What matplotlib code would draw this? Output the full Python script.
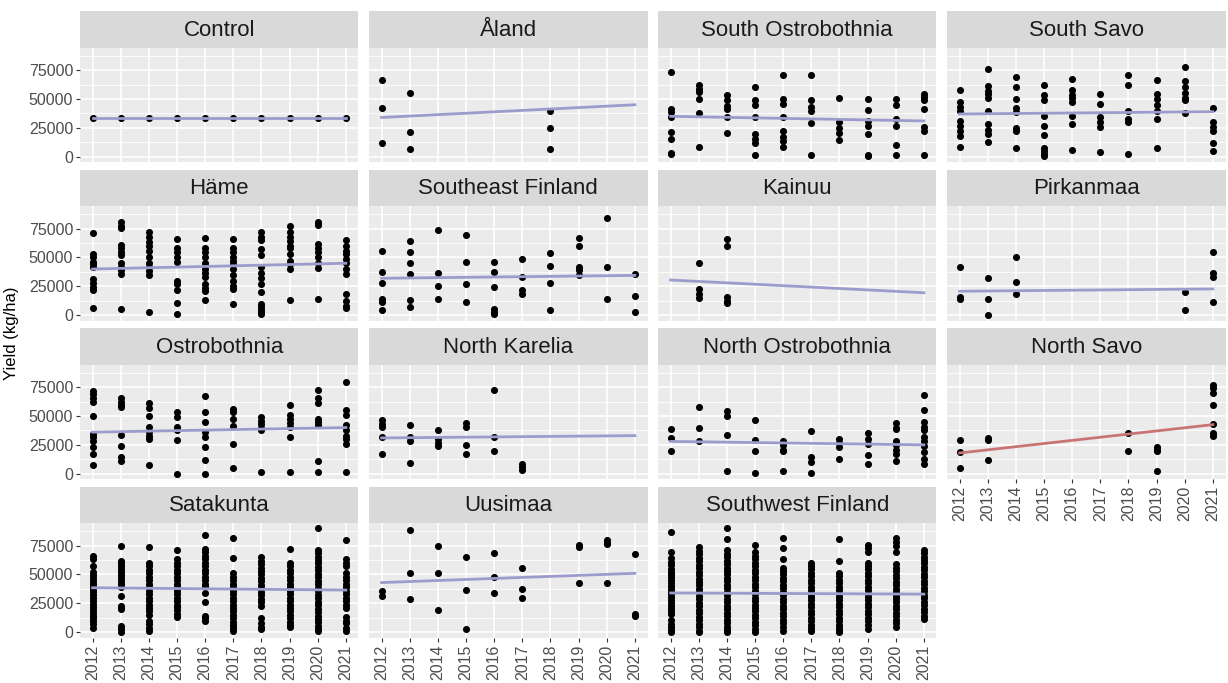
import matplotlib
matplotlib.use("Agg")
import matplotlib.pyplot as plt

plt.rcParams['font.family'] = ['Liberation Sans', 'DejaVu Sans']

years = [2012, 2013, 2014, 2015, 2016, 2017, 2018, 2019, 2020, 2021]

control = {y: [33600] for y in years}
aland = {2012: [66200, 42300, 12000], 2013: [55200, 21600, 6700], 2018: [40000, 24800, 6700]}
south_ostro = {
    2012: [73500, 41400, 38500, 34100, 21600, 15200, 3500, 2000],
    2013: [61900, 59000, 56000, 50200, 37900, 8800],
    2014: [53100, 48700, 44000, 41400, 34700, 20400],
    2015: [60400, 48700, 45000, 34700, 19600, 15000, 12000, 1200],
    2016: [70300, 50200, 45800, 34700, 22500, 17000, 14000, 8800],
    2017: [70300, 48700, 43000, 40000, 29200, 1200],
    2018: [50800, 29800, 25000, 21000, 14300],
    2019: [49600, 40600, 31200, 27000, 19600, 1500, 500],
    2020: [50200, 45000, 32700, 27000, 9900, 1200],
    2021: [54000, 51500, 49300, 41400, 25400, 22000, 1200],
}
south_savo = {
    2012: [57500, 47300, 43000, 40000, 31200, 27000, 22000, 18000, 8800],
    2013: [75600, 61000, 57000, 54000, 51000, 39400, 28300, 23000, 20000, 12800],
    2014: [68600, 60400, 50200, 42300, 38500, 24500, 22500, 7900],
    2015: [61900, 53100, 49300, 35600, 26800, 18700, 7900, 5000, 2000, 500],
    2016: [67100, 57500, 53000, 50500, 47000, 35600, 28300, 5500],
    2017: [54000, 45800, 34100, 30000, 25400, 4400],
    2018: [70300, 61900, 40000, 32700, 29800, 2000],
    2019: [66200, 54600, 50000, 45000, 40000, 32700, 7900],
    2020: [78000, 65400, 60000, 55000, 51000, 49300, 37600],
    2021: [42000, 29800, 26000, 22500, 12300, 5000],
}
hame = {
    2012: [71000, 53000, 50000, 46000, 44000, 42000, 31000, 28000, 24500, 22000, 6500],
    2013: [80500, 77000, 75600, 61000, 58000, 55000, 52000, 45000, 42000, 39000, 36000, 5500],
    2014: [72000, 68000, 63000, 60000, 56000, 50000, 45000, 42000, 38000, 35000, 2600],
    2015: [66000, 58000, 55000, 50000, 46000, 30000, 27000, 22000, 10500, 1200],
    2016: [67000, 58000, 55000, 50000, 45000, 40000, 37000, 33000, 27000, 24000, 21000, 13000],
    2017: [66000, 58000, 55000, 50000, 47000, 44000, 40000, 35000, 30000, 25000, 23000, 10000],
    2018: [72000, 68000, 65000, 57000, 52000, 42000, 37000, 32000, 27000, 20000, 10000, 7000, 5000, 3000, 1500],
    2019: [77000, 72000, 68000, 64000, 60000, 58000, 53000, 47000, 44000, 40000, 13000],
    2020: [80500, 78000, 62000, 58000, 55000, 50000, 45000, 41000, 14000],
    2021: [65000, 60000, 56000, 53000, 49000, 45000, 40000, 36000, 18000, 12000, 8000, 6000],
}
southeast = {
    2012: [56000, 37600, 28000, 14300, 11400, 5000],
    2013: [64000, 55000, 45000, 35600, 12800, 7600],
    2014: [73500, 36800, 25700, 14300],
    2015: [69500, 46400, 26800, 11700],
    2016: [46400, 37600, 24500, 5500, 3000, 1500],
    2017: [48400, 33300, 21600, 18700],
    2018: [53700, 43000, 28000, 5000],
    2019: [67000, 59500, 42000, 39000, 34700],
    2020: [84300, 42000, 13700],
    2021: [35600, 16300, 3200],
}
kainuu = {2013: [45000, 23000, 18000, 15000], 2014: [66000, 60000, 15800, 12000, 10500]}
pirkanmaa = {
    2012: [42000, 15800, 14300],
    2013: [32400, 13700, 300],
    2014: [50500, 28600, 18700],
    2020: [20100, 4700],
    2021: [54600, 36200, 33300, 11700],
}
ostro = {
    2012: [71800, 69000, 65500, 62500, 49800, 34600, 31500, 28700, 22800, 17000, 7300],
    2013: [65300, 62000, 59500, 57500, 33700, 24300, 14600, 11100],
    2014: [61000, 56500, 49800, 40400, 36000, 33000, 30200, 7300],
    2015: [53600, 49200, 40400, 37500, 29300, 0],
    2016: [67400, 53600, 44800, 36000, 31600, 23400, 11700, 0],
    2017: [55700, 53600, 47700, 41000, 25800, 5300],
    2018: [49200, 46000, 43000, 40000, 37500, 1200],
    2019: [59500, 50700, 47500, 44000, 40400, 31600, 1200],
    2020: [72700, 65300, 61000, 47700, 45000, 42000, 11100, 1200],
    2021: [79100, 55000, 50700, 42500, 37500, 33000, 30000, 25800, 1200],
}
north_karelia = {
    2012: [46900, 43000, 40400, 31600, 16900],
    2013: [41900, 31600, 28700, 9700],
    2014: [38100, 30200, 27000, 24300],
    2015: [44000, 40400, 24900, 16900],
    2016: [72700, 31600, 19300],
    2017: [8200, 5500, 3500],
}
north_ostro = {
    2012: [38400, 30800, 19300],
    2013: [57400, 39800, 28700],
    2014: [54200, 50000, 33700, 2300],
    2015: [46900, 29300, 19300, 900],
    2016: [28700, 25000, 21000, 19300, 2300],
    2017: [36900, 14100, 10000, 900],
    2018: [30200, 27000, 23000, 12900],
    2019: [35100, 30200, 25800, 16400, 8800],
    2020: [43500, 40000, 38800, 28700, 25000, 21000, 17000, 11100],
    2021: [68000, 55000, 44800, 40400, 37500, 32200, 28000, 24000, 18500, 13000, 8200],
}
north_savo = {
    2012: [29300, 18500, 5300],
    2013: [31000, 29300, 12000],
    2018: [35700, 19300],
    2019: [23400, 21000, 19900, 2300],
    2021: [77000, 74500, 70000, 59500, 43300, 35700, 33000],
}
satakunta = {
    2012: [66000, 63000, 57000, 52000, 49500, 47000, 44500, 42000, 39500, 37000, 34500, 32000,
           29500, 27000, 24500, 22000, 19500, 17000, 14500, 12000, 9500, 7000, 4000],
    2013: [75000, 62000, 59500, 57000, 54500, 52000, 49500, 47000, 44500, 42000, 39500, 31000,
           22500, 20000, 5800, 3000, 600],
    2014: [73500, 60000, 57000, 54000, 51000, 48000, 45000, 42000, 39000, 36000, 33000, 30000,
           27000, 24000, 21000, 18000, 15000, 10000, 7300, 4000, 1500],
    2015: [71500, 63000, 60000, 57000, 54000, 51000, 48000, 45000, 42000, 39000, 36000, 33000,
           30000, 27000, 24000, 22000, 19000, 16000, 13000],
    2016: [84000, 72000, 69000, 66000, 63000, 60000, 57000, 54000, 51000, 48000, 45000, 42000,
           40000, 34000, 26000, 14500, 12000, 10000],
    2017: [81500, 64000, 51000, 48000, 45000, 42000, 39000, 36000, 33000, 30000, 27000, 24000,
           21000, 18000, 15000, 12000, 9000, 6000, 3500, 1500],
    2018: [65000, 62000, 59000, 56000, 53000, 50000, 47000, 44000, 41000, 38000, 35000, 32000,
           29000, 26000, 23000, 12000, 8000, 5000, 3000],
    2019: [72000, 60000, 57000, 54000, 51000, 48000, 45000, 42000, 39000, 36000, 33000, 30000,
           27000, 24000, 21000, 18000, 15000, 12000, 9000, 6500, 4500],
    2020: [90000, 71500, 68500, 65500, 62500, 59500, 56500, 53500, 50500, 47500, 44500, 41500,
           38500, 35500, 32500, 29500, 26500, 23500, 20500, 17500, 14500, 11500, 8500, 5500, 2500, 1000],
    2021: [80000, 63000, 60000, 57000, 51000, 48000, 45000, 42000, 39000, 36000, 33000, 30000,
           27000, 24000, 20600, 13000, 10000, 8000, 4000, 1500],
}
uusimaa = {
    2012: [35700, 31000],
    2013: [88200, 51000, 28900],
    2014: [75000, 51000, 19000],
    2015: [65300, 36200, 2900],
    2016: [68600, 48000, 34200],
    2017: [55400, 37100, 29800],
    2019: [75600, 73600, 43000],
    2020: [80000, 77000, 76000, 43000],
    2021: [67700, 15800, 13700],
}
southwest = {
    2012: [86800, 69700, 64000, 61000, 58000, 55000, 52500, 50000, 47500, 45000, 42500, 40000,
           37500, 35000, 33000, 30500, 28000, 25500, 23000, 20500, 18000, 15500, 10300, 7500, 4500, 2000, 300],
    2013: [73500, 70500, 67500, 64500, 61500, 58500, 55500, 52500, 49500, 46500, 43500, 40500,
           37500, 34500, 31500, 28500, 25500, 22500, 19500, 16500, 13500, 10500, 7500, 4500, 1500, 0],
    2014: [90000, 81000, 71000, 68000, 65000, 62000, 59000, 56000, 53000, 50000, 47000, 44000,
           41000, 38000, 35000, 32000, 29000, 26000, 23000, 20000, 17000, 14000, 11000, 8000, 5000, 2000, 0],
    2015: [75600, 69000, 66000, 63000, 60000, 57000, 54000, 51000, 48000, 45000, 42000, 39000,
           36000, 33000, 30000, 27000, 24000, 21000, 18000, 15000, 12000, 9000, 6000, 3000, 500],
    2016: [81500, 72600, 63800, 55900, 53000, 50000, 47000, 44000, 41000, 38000, 35000, 32000,
           29000, 26000, 23000, 20000, 17000, 14000, 11000, 8000, 5000, 1500],
    2017: [60300, 57500, 54500, 51500, 48500, 45500, 42500, 39500, 36500, 33500, 30500, 27500,
           24500, 21500, 18500, 15500, 12500, 9500, 6500, 3500, 1500],
    2018: [80300, 61800, 51500, 48500, 45500, 42500, 39500, 36500, 33500, 30500, 27500, 24500,
           21500, 18500, 15500, 12500, 9500, 6500, 3500, 1000, 0],
    2019: [75600, 72500, 69700, 60300, 57500, 54500, 51500, 48500, 45500, 42500, 39500, 36500,
           33500, 30500, 27500, 24500, 21500, 18500, 15500, 12500, 9500, 6500, 3000],
    2020: [81500, 78000, 75000, 69000, 58800, 55800, 52800, 49800, 46800, 43800, 40800, 37800,
           34800, 31800, 28800, 25800, 22800, 19800, 16800, 13800, 10800, 7800, 4500],
    2021: [71500, 68500, 65500, 62500, 59500, 56500, 53500, 50500, 47500, 44500, 41500, 38500,
           35500, 32500, 29500, 26500, 23500, 20500, 17500, 14500, 11800],
}

panel_names = ["Control", "Åland", "South Ostrobothnia", "South Savo",
               "Häme", "Southeast Finland", "Kainuu", "Pirkanmaa",
               "Ostrobothnia", "North Karelia", "North Ostrobothnia", "North Savo",
               "Satakunta", "Uusimaa", "Southwest Finland"]
panel_data = [control, aland, south_ostro, south_savo,
              hame, southeast, kainuu, pirkanmaa,
              ostro, north_karelia, north_ostro, north_savo,
              satakunta, uusimaa, southwest]
# fitted trend at 2012 and 2021
trend_2012 = [33800, 34000, 35000, 37000, 40000, 32000, 30500, 20800, 36000, 31000, 28000, 18000, 38500, 43000, 34000]
trend_2021 = [33800, 45000, 31000, 39000, 45000, 34500, 19500, 22800, 40000, 33000, 25000, 42500, 36500, 51000, 33000]
trend_sig = [False] * 11 + [True] + [False] * 3

W, H = 1228, 683
fig = plt.figure(figsize=(W / 100, H / 100), dpi=100)

col_left0, col_pitch, panel_w = 80, 289, 278.5
row_top0, row_pitch, strip_h, panel_h = 11, 158.5, 36.5, 114.5

all_vals = [v for d in panel_data for vs in d.values() for v in vs]
ymin, ymax = min(all_vals), max(all_vals)
pad = (ymax - ymin) * 0.05

for i, (name, data) in enumerate(zip(panel_names, panel_data)):
    r, c = divmod(i, 4)
    left = col_left0 + c * col_pitch
    top = row_top0 + r * row_pitch
    # strip
    sax = fig.add_axes([left / W, 1 - (top + strip_h) / H, panel_w / W, strip_h / H])
    sax.set_facecolor('#D9D9D9')
    sax.set_xticks([])
    sax.set_yticks([])
    for s in sax.spines.values():
        s.set_visible(False)
    sax.text(0.5, 0.47, name, ha='center', va='center', fontsize=16, color='#1A1A1A',
             transform=sax.transAxes)
    # panel
    ax = fig.add_axes([left / W, 1 - (top + strip_h + panel_h) / H, panel_w / W, panel_h / H])
    ax.set_facecolor('#EBEBEB')
    for s in ax.spines.values():
        s.set_visible(False)
    ax.set_xlim(2011.55, 2021.45)
    ax.set_ylim(ymin - pad, ymax + pad)
    ax.set_xticks(years)
    ax.set_yticks([0, 25000, 50000, 75000])
    ax.set_yticks([12500, 37500, 62500, 87500], minor=True)
    ax.grid(True, which='major', color='white', lw=1.2)
    ax.grid(True, which='minor', axis='y', color='white', lw=0.6)
    ax.set_axisbelow(True)

    xs, ys = [], []
    for yr, vals in data.items():
        xs += [yr] * len(vals)
        ys += vals
    ax.scatter(xs, ys, s=26, color='black', linewidths=0, zorder=3)
    lc = '#C97474' if trend_sig[i] else '#9C9CCC'
    ax.plot([2012, 2021], [trend_2012[i], trend_2021[i]], color=lc, lw=2, zorder=4)

    ax.tick_params(which='minor', length=0)
    ax.tick_params(which='major', color='#333333', length=3, width=0.8,
                   labelcolor='#4D4D4D', labelsize=11.5, pad=2)
    if c != 0:
        ax.tick_params(axis='y', length=0, labelleft=False)
    bottom_row = (r == 3) or (r == 2 and c == 3)
    if bottom_row:
        ax.set_xticklabels([str(y) for y in years], rotation=90)
    else:
        ax.tick_params(axis='x', length=0, labelbottom=False)

fig.text(12 / W, 1 - 333 / H, "Yield (kg/ha)", rotation=90, ha='center', va='center',
         fontsize=12, color='black')

fig.savefig("out.png", dpi=100, facecolor='white')
